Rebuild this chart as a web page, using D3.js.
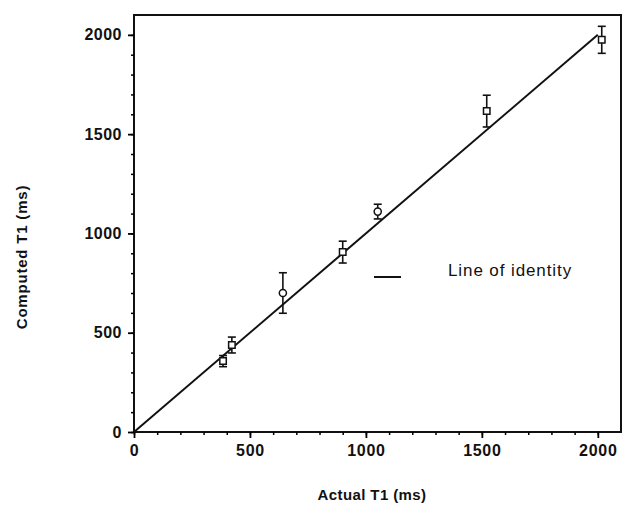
<!DOCTYPE html>
<html>
<head>
<meta charset="utf-8">
<script src="https://cdn.jsdelivr.net/npm/d3@7"></script>
<style>
  body { margin: 0; background: #fff; }
  svg { font-family: "Liberation Sans", Arial, sans-serif; }
</style>
</head>
<body>
<div id="chart"></div>
<script>
// measured points (actual, computed, error half-width, marker)
const actualT1 = [384, 422, 642, 900, 1051, 1521, 2017];
const computedT1 = [357, 438, 700, 906, 1110, 1616, 1975];
const errT1 = [28, 40, 102, 55, 37, 80, 68];
const markers = ["square", "square", "circle", "square", "circle", "square", "square"];
const identity = [0, 2000];
const majorTicks = [0, 500, 1000, 1500, 2000];
const minorTicks = d3.range(0, 2100, 100);

function createChart() {
    const container = d3.select("#chart");
    const margin = { top: 15, right: 4, bottom: 83, left: 134 };
    const width = 625 - margin.left - margin.right;
    const height = 515 - margin.top - margin.bottom;

    const svg = container.append("svg")
        .attr("width", 625)
        .attr("height", 515);

    const g = svg.append("g")
        .attr("transform", `translate(${margin.left}, ${margin.top})`);

    const xScale = d3.scaleLinear().domain([0, 2100]).range([0, width]);
    const yScale = d3.scaleLinear().domain([0, 2100]).range([height, 0]);

    // frame
    g.append("rect")
        .attr("width", width)
        .attr("height", height)
        .attr("fill", "none")
        .attr("stroke", "#111")
        .attr("stroke-width", 2);

    // minor ticks
    g.append("g")
        .attr("transform", `translate(0, ${height})`)
        .call(d3.axisBottom(xScale).tickValues(minorTicks).tickSize(3).tickFormat(""))
        .call(a => a.select(".domain").remove())
        .selectAll("line").attr("stroke-width", 1.5);

    g.append("g")
        .call(d3.axisLeft(yScale).tickValues(minorTicks).tickSize(3).tickFormat(""))
        .call(a => a.select(".domain").remove())
        .selectAll("line").attr("stroke-width", 1.5);

    // major ticks
    const xAxis = g.append("g")
        .attr("transform", `translate(0, ${height})`)
        .call(d3.axisBottom(xScale).tickValues(majorTicks).tickSize(6).tickPadding(7).tickFormat(d3.format("d")))
        .call(a => a.select(".domain").remove());
    xAxis.selectAll("line").attr("stroke-width", 1.8);
    xAxis.selectAll("text")
        .style("font-size", "16px")
        .style("font-weight", "bold")
        .style("letter-spacing", "0.7px")
        .attr("fill", "#111");

    const yAxis = g.append("g")
        .call(d3.axisLeft(yScale).tickValues(majorTicks).tickSize(6).tickPadding(6).tickFormat(d3.format("d")))
        .call(a => a.select(".domain").remove());
    yAxis.selectAll("line").attr("stroke-width", 1.8);
    yAxis.selectAll("text")
        .style("font-size", "16px")
        .style("font-weight", "bold")
        .style("letter-spacing", "0.5px")
        .attr("fill", "#111");

    // line of identity
    g.append("line")
        .attr("x1", xScale(identity[0]))
        .attr("y1", yScale(identity[0]))
        .attr("x2", xScale(identity[1]))
        .attr("y2", yScale(identity[1]))
        .attr("stroke", "#111")
        .attr("stroke-width", 2);

    const pts = actualT1.map((x, i) => ({ x, y: computedT1[i], e: errT1[i], m: markers[i] }));

    // error bars
    const eb = g.selectAll(".err").data(pts).enter().append("g").attr("class", "err")
        .attr("stroke", "#111").attr("stroke-width", 1.6);
    eb.append("line")
        .attr("x1", d => xScale(d.x)).attr("x2", d => xScale(d.x))
        .attr("y1", d => yScale(d.y + d.e)).attr("y2", d => yScale(d.y - d.e));
    eb.append("line")
        .attr("x1", d => xScale(d.x) - 4).attr("x2", d => xScale(d.x) + 4)
        .attr("y1", d => yScale(d.y + d.e)).attr("y2", d => yScale(d.y + d.e));
    eb.append("line")
        .attr("x1", d => xScale(d.x) - 4).attr("x2", d => xScale(d.x) + 4)
        .attr("y1", d => yScale(d.y - d.e)).attr("y2", d => yScale(d.y - d.e));

    // markers
    g.selectAll(".pt").data(pts).enter().append("path")
        .attr("class", "pt")
        .attr("transform", d => `translate(${xScale(d.x)}, ${yScale(d.y)})`)
        .attr("d", d => d3.symbol()
            .type(d.m === "circle" ? d3.symbolCircle : d3.symbolSquare)
            .size(d.m === "circle" ? 40 : 42)())
        .attr("fill", "#fff")
        .attr("stroke", "#111")
        .attr("stroke-width", 1.5);

    // legend
    const legend = svg.append("g").attr("transform", "translate(374, 277)");
    legend.append("line")
        .attr("x1", 0).attr("x2", 27)
        .attr("y1", 0).attr("y2", 0)
        .attr("stroke", "#111").attr("stroke-width", 2);
    legend.append("text")
        .attr("x", 74).attr("y", -1)
        .style("font-size", "17px")
        .style("letter-spacing", "0.9px")
        .attr("fill", "#111")
        .text("Line of identity");

    // axis titles
    svg.append("text")
        .attr("x", 372)
        .attr("y", 500)
        .style("text-anchor", "middle")
        .style("font-size", "15px")
        .style("font-weight", "bold")
        .style("letter-spacing", "0.4px")
        .attr("fill", "#111")
        .text("Actual T1 (ms)");

    svg.append("text")
        .attr("transform", "rotate(-90)")
        .attr("x", -257)
        .attr("y", 27)
        .style("text-anchor", "middle")
        .style("font-size", "15px")
        .style("font-weight", "bold")
        .style("letter-spacing", "0.8px")
        .attr("fill", "#111")
        .text("Computed T1 (ms)");
}

createChart();
</script>
</body>
</html>
